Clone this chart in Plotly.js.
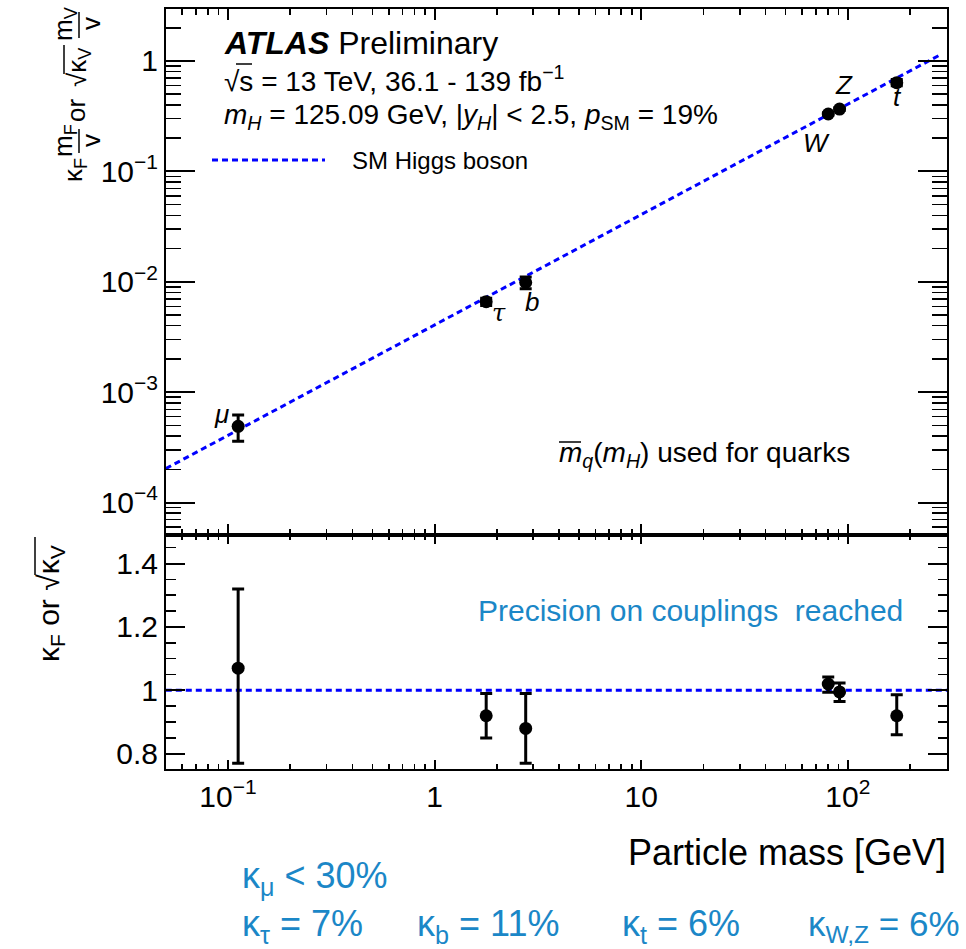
<!DOCTYPE html>
<html>
<head>
<meta charset="utf-8">
<script src="https://cdn.plot.ly/plotly-3.0.1.min.js"></script>
<style>html,body{margin:0;padding:0;background:#fff;}</style>
</head>
<body>
<div id="chart" style="width:966px;height:949px;"></div>
<script>
// ---------- data ----------
const particles = ['μ', 'τ', 'b', 'W', 'Z', 't'];
const particleMass = [0.112, 1.777, 2.76, 80.4, 91.19, 172.5];          // GeV (as placed in the figure)
const reducedCoupling = [4.9e-4, 6.6e-3, 9.85e-3, 0.331, 0.367, 0.636];   // kappa*m/v
const reducedErrUp = [1.3e-4, 0.5e-3, 1.2e-3, 0.008, 0.010, 0.045];
const reducedErrDown = [1.3e-4, 0.5e-3, 1.2e-3, 0.008, 0.011, 0.040];
const kappa = [1.07, 0.92, 0.88, 1.02, 0.995, 0.92];
const kappaErrUp = [0.25, 0.07, 0.11, 0.022, 0.028, 0.066];
const kappaErrDown = [0.30, 0.07, 0.11, 0.026, 0.030, 0.060];
const smMass = [0.05, 280];
const smReduced = [2.03e-4, 1.138];
const smRatioMass = [0.05, 302];
const smRatio = [1, 1];
const xTickVals = [0.1, 1, 10, 100];
const xTickText = ['10<sup>−1</sup>', '1', '10', '10<sup>2</sup>'];
const yTopTickVals = [1e-4, 1e-3, 1e-2, 1e-1, 1];
const yTopTickText = ['10<sup>−4</sup>', '10<sup>−3</sup>', '10<sup>−2</sup>', '10<sup>−1</sup>', '1'];
const yBotTickVals = [0.8, 1, 1.2, 1.4];
const yBotTickText = ['0.8', '1', '1.2', '1.4'];

// minor tick positions
const xMinor = [];
[0.01, 0.1, 1, 10, 100].forEach(d => { for (let k = 2; k <= 9; k++) { const v = d * k; if (v > 0.0501 && v < 301) xMinor.push(v); } });
const yTopMinor = [];
[1e-5, 1e-4, 1e-3, 1e-2, 1e-1, 1].forEach(d => { for (let k = 2; k <= 9; k++) { const v = d * k; if (v > 5.1e-5 && v < 2.95) yTopMinor.push(v); } });
const yBotMinor = [];
for (let i = 0; i <= 14; i++) { const v = +(0.75 + 0.05 * i).toFixed(2); if (yBotTickVals.indexOf(v) < 0) yBotMinor.push(v); }

// ---------- layout helpers ----------
const L = 166, R = 19, T = 9, B = 180, W = 966, H = 949;
const PW = W - L - R, PH = H - T - B;
const px = X => (X - L) / PW;
const py = Y => (H - B - Y) / PH;
const split = 234 / PH;
const FONT = 'Liberation Sans, Arial, Helvetica, sans-serif';
const BLUE = '#1b87c7';
const SMBLUE = '#0000ff';

const traces = [
  { x: smMass, y: smReduced, xaxis: 'x2', yaxis: 'y2', mode: 'lines', hoverinfo: 'skip',
    line: { color: SMBLUE, width: 3, dash: '6px,4px' }, showlegend: false },
  { x: particleMass, y: reducedCoupling, text: particles, xaxis: 'x2', yaxis: 'y2', mode: 'markers',
    marker: { color: 'black', size: 13 }, showlegend: false,
    error_y: { type: 'data', symmetric: false, array: reducedErrUp, arrayminus: reducedErrDown, color: 'black', thickness: 3, width: 6 } },
  { x: smRatioMass, y: smRatio, xaxis: 'x', yaxis: 'y', mode: 'lines', hoverinfo: 'skip',
    line: { color: SMBLUE, width: 3, dash: '6px,4px' }, showlegend: false },
  { x: particleMass, y: kappa, text: particles, xaxis: 'x', yaxis: 'y', mode: 'markers',
    marker: { color: 'black', size: 13 }, showlegend: false,
    error_y: { type: 'data', symmetric: false, array: kappaErrUp, arrayminus: kappaErrDown, color: 'black', thickness: 3, width: 6 } }
];

const axBase = {
  showline: true, linewidth: 2, linecolor: 'black', mirror: 'allticks',
  ticks: 'inside', tickwidth: 2, tickcolor: 'black', showgrid: false, zeroline: false,
  tickfont: { family: FONT, size: 30, color: 'black' }
};

const ann = (x, y, text, opts) => Object.assign({
  xref: 'paper', yref: 'paper', x: px(x), y: py(y), text: text, showarrow: false,
  xanchor: 'left', yanchor: 'middle', font: { family: FONT, size: 28, color: 'black' }
}, opts || {});
const rot = (x, y, text, size) => ann(x, y, text, { xanchor: 'center', textangle: -90, font: { family: FONT, size: size || 26, color: 'black' } });
const seg = (x0, y0, x1, y1, color, width, dash) => ({
  type: 'line', xref: 'paper', yref: 'paper', x0: px(x0), y0: py(y0), x1: px(x1), y1: py(y1),
  line: { color: color || 'black', width: width || 1.5, dash: dash || 'solid' }
});
const blueFont = { family: FONT, size: 36, color: BLUE };

const annotations = [
  ann(222, 43, '<b><i>ATLAS</i></b> Preliminary', { font: { family: FONT, size: 32, color: 'black' } }),
  ann(222, 79, '√s = 13 TeV, 36.1 - 139 fb<sup>−1</sup>'),
  ann(222, 116, '<i>m</i><sub><i>H</i></sub> = 125.09 GeV, |<i>y</i><sub><i>H</i></sub>| < 2.5, <i>p</i><sub>SM</sub> = 19%'),
  ann(350, 160, 'SM Higgs boson', { font: { family: FONT, size: 24, color: 'black' } }),
  ann(557, 454, '<i>m</i><sub><i>q</i></sub>(<i>m</i><sub><i>H</i></sub>) used for quarks'),
  ann(476, 610, 'Precision on couplings  reached', { font: { family: FONT, size: 30, color: BLUE } }),
  // particle labels
  ann(221, 414, '<i>μ</i>', { xanchor: 'center', font: { family: FONT, size: 26, color: 'black' } }),
  ann(499, 313, '<i>τ</i>', { xanchor: 'center', font: { family: 'DejaVu Serif, serif', size: 24, color: 'black' } }),
  ann(532, 302, '<i>b</i>', { xanchor: 'center', font: { family: FONT, size: 26, color: 'black' } }),
  ann(816, 143, '<i>W</i>', { xanchor: 'center', font: { family: FONT, size: 26, color: 'black' } }),
  ann(844, 85, '<i>Z</i>', { xanchor: 'center', font: { family: FONT, size: 26, color: 'black' } }),
  ann(897, 97, '<i>t</i>', { xanchor: 'center', font: { family: FONT, size: 26, color: 'black' } }),
  // x title
  ann(948, 852, 'Particle mass [GeV]', { xanchor: 'right', font: { family: FONT, size: 36, color: 'black' } }),
  // top y title pieces
  rot(74, 170, 'κ<sub>F</sub>'),
  rot(64, 141, 'm<sub>F</sub>'),
  rot(91, 141, 'v'),
  rot(76, 111, 'or'),
  rot(78, 67, '√κ<sub>V</sub>'),
  rot(64, 24, 'm<sub>V</sub>'),
  rot(91, 24, 'v'),
  // bottom y title
  rot(50, 603, 'κ<sub>F</sub> or √κ<sub>V</sub>', 30),
  // precision summary
  ann(240, 878, 'κ<sub>μ</sub> < 30%', { font: blueFont }),
  ann(240, 926, 'κ<sub>τ</sub> = 7%', { font: blueFont }),
  ann(415, 926, 'κ<sub>b</sub> = 11%', { font: blueFont }),
  ann(620, 926, 'κ<sub>t</sub> = 6%', { font: blueFont }),
  ann(962, 926, 'κ<sub>W,Z</sub> = 6%', { xanchor: 'right', font: { family: FONT, size: 35, color: BLUE } })
];

const shapes = [
  seg(212, 160, 325, 160, SMBLUE, 3, '6px,4px'),
  seg(79, 129, 79, 153),
  seg(79, 12, 79, 38),
  seg(64, 45, 64, 74),
  seg(236, 64, 252, 64, 'black', 1.5),
  seg(559, 442, 581, 442, 'black', 1.5),
  seg(35, 537, 35, 575)
];

const layout = {
  width: W, height: H,
  margin: { l: L, r: R, t: T, b: B, pad: 0 },
  paper_bgcolor: 'white', plot_bgcolor: 'white',
  showlegend: false,
  font: { family: FONT, color: 'black' },
  xaxis: Object.assign({}, axBase, {
    type: 'log', range: [-1.300, 2.480], domain: [0, 1], anchor: 'y',
    tickmode: 'array', tickvals: xTickVals, ticktext: xTickText, ticklen: 9,
    minor: { tickmode: 'array', tickvals: xMinor, ticks: 'inside', ticklen: 5, tickwidth: 1.5, tickcolor: 'black', showgrid: false }
  }),
  xaxis2: Object.assign({}, axBase, {
    type: 'log', range: [-1.300, 2.480], domain: [0, 1], anchor: 'y2', showticklabels: false,
    tickmode: 'array', tickvals: xTickVals, ticklen: 11,
    minor: { tickmode: 'array', tickvals: xMinor, ticks: 'inside', ticklen: 6, tickwidth: 1.5, tickcolor: 'black', showgrid: false }
  }),
  yaxis: Object.assign({}, axBase, {
    range: [0.752, 1.490], domain: [0, split], anchor: 'x',
    tickmode: 'array', tickvals: yBotTickVals, ticktext: yBotTickText, ticklen: 19,
    minor: { tickmode: 'array', tickvals: yBotMinor, ticks: 'inside', ticklen: 9.5, tickwidth: 1.5, tickcolor: 'black', showgrid: false }
  }),
  yaxis2: Object.assign({}, axBase, {
    type: 'log', range: [-4.294, 0.471], domain: [split, 1], anchor: 'x2',
    tickmode: 'array', tickvals: yTopTickVals, ticktext: yTopTickText, ticklen: 29,
    minor: { tickmode: 'array', tickvals: yTopMinor, ticks: 'inside', ticklen: 15, tickwidth: 1.5, tickcolor: 'black', showgrid: false }
  }),
  annotations: annotations,
  shapes: shapes
};

Plotly.newPlot('chart', traces, layout, { displayModeBar: false, staticPlot: true });
</script>
</body>
</html>
